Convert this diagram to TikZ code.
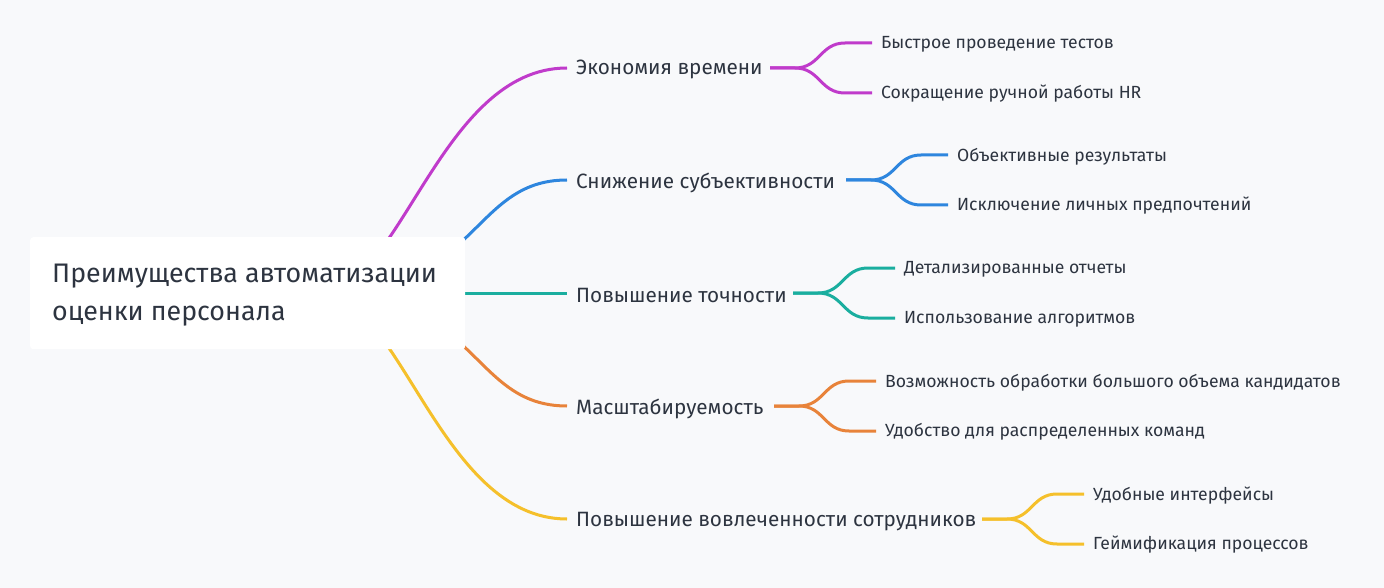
\documentclass[tikz,border=0pt]{standalone}
\usepackage{fontspec}
\setmainfont{Fira Sans}
\definecolor{bg}{HTML}{F8F9FB}
\definecolor{txt}{HTML}{2D3440}
\definecolor{colM}{HTML}{C03BCB}
\definecolor{colB}{HTML}{2E86DE}
\definecolor{colT}{HTML}{1AAE9F}
\definecolor{colO}{HTML}{E8833A}
\definecolor{colY}{HTML}{F5C02B}
\begin{document}
\begin{tikzpicture}[x=1pt,y=-1pt,
  br/.style={line width=3pt},
  lab/.style={anchor=west,inner sep=0pt,text=txt,font=\fontsize{20.7}{24}\selectfont},
  sub/.style={anchor=west,inner sep=0pt,text=txt,font=\fontsize{17.6}{20}\selectfont}]
\fill[bg] (0,0) rectangle (1384,588);
\useasboundingbox (0,0) rectangle (1384,588);
\node[lab] (a) at (576,69.5) {Экономия времени};
\node[lab] (b) at (576,182.5) {Снижение субъективности};
\node[lab] (c) at (576,295.5) {Повышение точности};
\node[lab] (d) at (576,408.5) {Масштабируемость};
\node[lab] (e) at (576,521.5) {Повышение вовлеченности сотрудников};
\coordinate (r) at (320,293);
\draw[br,colM] (r) .. controls (400,293) and (440,68) .. (567,68);
\draw[br,colB] (r) .. controls (480,293) and (470,180) .. (567,180);
\draw[br,colT] (r) -- (567,293);
\draw[br,colO] (r) .. controls (480,293) and (470,406) .. (567,406);
\draw[br,colY] (r) .. controls (400,293) and (440,519) .. (567,519);
\node[fill=white,rounded corners=3pt,minimum width=435pt,minimum height=112pt,anchor=north west] (root) at (30,237) {};
\node[anchor=west,align=left,text=txt,font=\fontsize{26.8}{38}\selectfont,inner sep=0pt] (rt) at (52,295) {Преимущества автоматизации\\оценки персонала};
\foreach \n/\c/\x/\y/\ta/\tb in {
 a/colM/770/68/Быстрое проведение тестов/Сокращение ручной работы HR,
 b/colB/846/180/Объективные результаты/Исключение личных предпочтений,
 c/colT/793/293/Детализированные отчеты/Использование алгоритмов,
 d/colO/774/406/Возможность обработки большого объема кандидатов/Удобство для распределенных команд,
 e/colY/982/519/Удобные интерфейсы/Геймификация процессов}{
 \node[sub] (\n1) at (\x+111,\y-23.5) {\ta};
 \node[sub] (\n2) at (\x+111,\y+26) {\tb};
 \draw[br,\c] (\x,\y) -- (\x+25,\y) .. controls (\x+50,\y) and (\x+50,\y-25) .. (\x+75,\y-25) -- (\x+102,\y-25);
 \draw[br,\c] (\x,\y) -- (\x+25,\y) .. controls (\x+50,\y) and (\x+50,\y+25) .. (\x+75,\y+25) -- (\x+102,\y+25);
}
\end{tikzpicture}
\end{document}
